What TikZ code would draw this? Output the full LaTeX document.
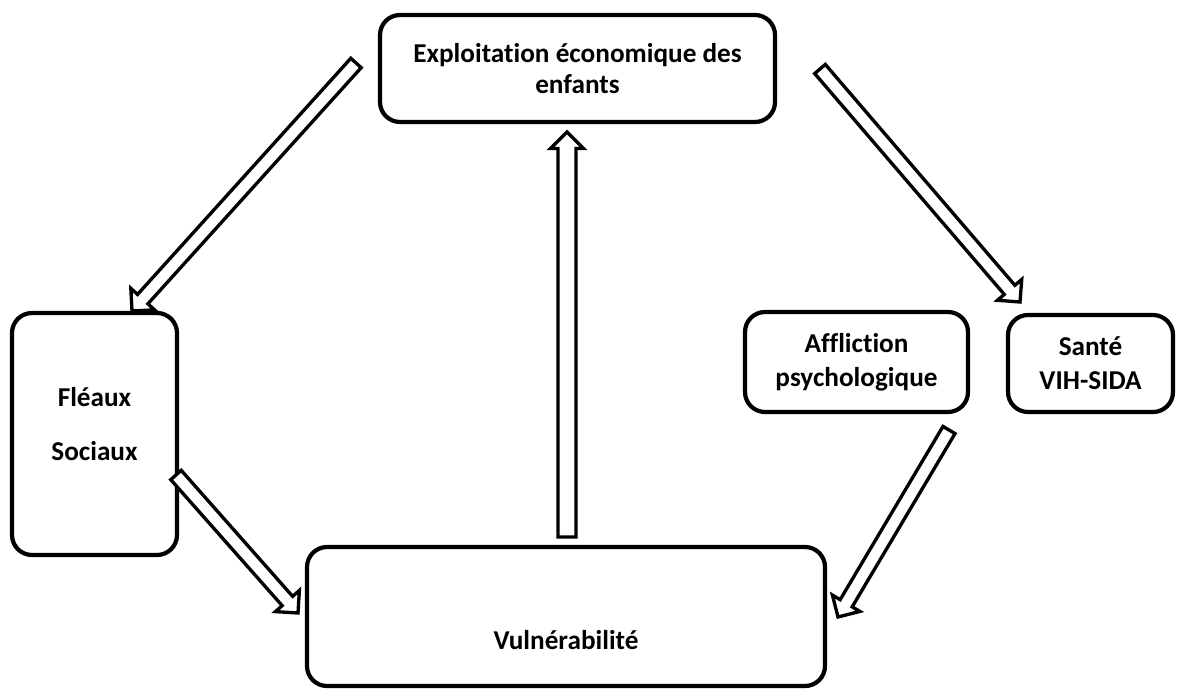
\documentclass[tikz,border=0pt]{standalone}
\usepackage{fontspec}
\setmainfont{Carlito}[Ligatures=NoCommon]
\usetikzlibrary{calc}

% hollow block arrow: tail, tip, half shaft width, half head width
\newcommand{\hollowarrow}[4]{%
  \coordinate (hb) at ($(#2)!#4!(#1)$);
  \draw[fleche] ($(#1)!#3!90:(#2)$) -- ($(hb)!#3!90:(#2)$) -- ($(hb)!#4!90:(#2)$) -- (#2)
    -- ($(hb)!#4!-90:(#2)$) -- ($(hb)!#3!-90:(#2)$) -- ($(#1)!#3!-90:(#2)$) -- cycle;}

\begin{document}
\begin{tikzpicture}[every node/.style={font=\bfseries\fontsize{15.5}{17.5}\selectfont, align=center},
  boite/.style={draw, line width=2.4pt, rounded corners=0.4cm, inner sep=0pt},
  fleche/.style={draw, line width=1.9pt, fill=white}]
\useasboundingbox (0,0) rectangle (23.56,13.76);
% ---- boxes
\node[boite, minimum width=7.9cm, minimum height=2.14cm] (expl) at (11.55,12.39) {Exploitation économique des\\enfants};
\node[boite, minimum width=3.3cm, minimum height=4.84cm] (fleaux) at (1.89,5.08) {Fléaux\\[13pt]Sociaux\\[-6pt]\mbox{}};
\node[boite, minimum width=10.36cm, minimum height=2.78cm] (vuln) at (11.32,1.43) {\raisebox{-0.66cm}[0pt][0pt]{Vulnérabilité}};
\node[boite, minimum width=4.46cm, minimum height=2.0cm] (affl) at (17.13,6.52) {Affliction\\[2pt]psychologique};
\node[boite, minimum width=3.3cm, minimum height=1.94cm] (sante) at (21.81,6.49) {Santé\\[2pt]VIH-SIDA};
% ---- arrow ends
\coordinate (expl-l) at (7.12,12.5);   \coordinate (fleaux-in) at (2.64,7.54);
\coordinate (vuln-up) at (11.34,3.02); \coordinate (expl-in) at (11.34,11.12);
\coordinate (fleaux-r) at (3.52,4.26); \coordinate (vuln-l) at (5.96,1.5);
\coordinate (expl-r) at (16.4,12.38);  \coordinate (sante-in) at (20.4,7.72);
\coordinate (affl-b) at (18.98,5.16);  \coordinate (vuln-r) at (16.76,1.42);
% ---- arrows
\hollowarrow{expl-l}{fleaux-in}{0.14cm}{0.32cm}
\hollowarrow{vuln-up}{expl-in}{0.18cm}{0.33cm}
\hollowarrow{fleaux-r}{vuln-l}{0.14cm}{0.32cm}
\hollowarrow{expl-r}{sante-in}{0.14cm}{0.32cm}
\hollowarrow{affl-b}{vuln-r}{0.14cm}{0.32cm}
\end{tikzpicture}
\end{document}
